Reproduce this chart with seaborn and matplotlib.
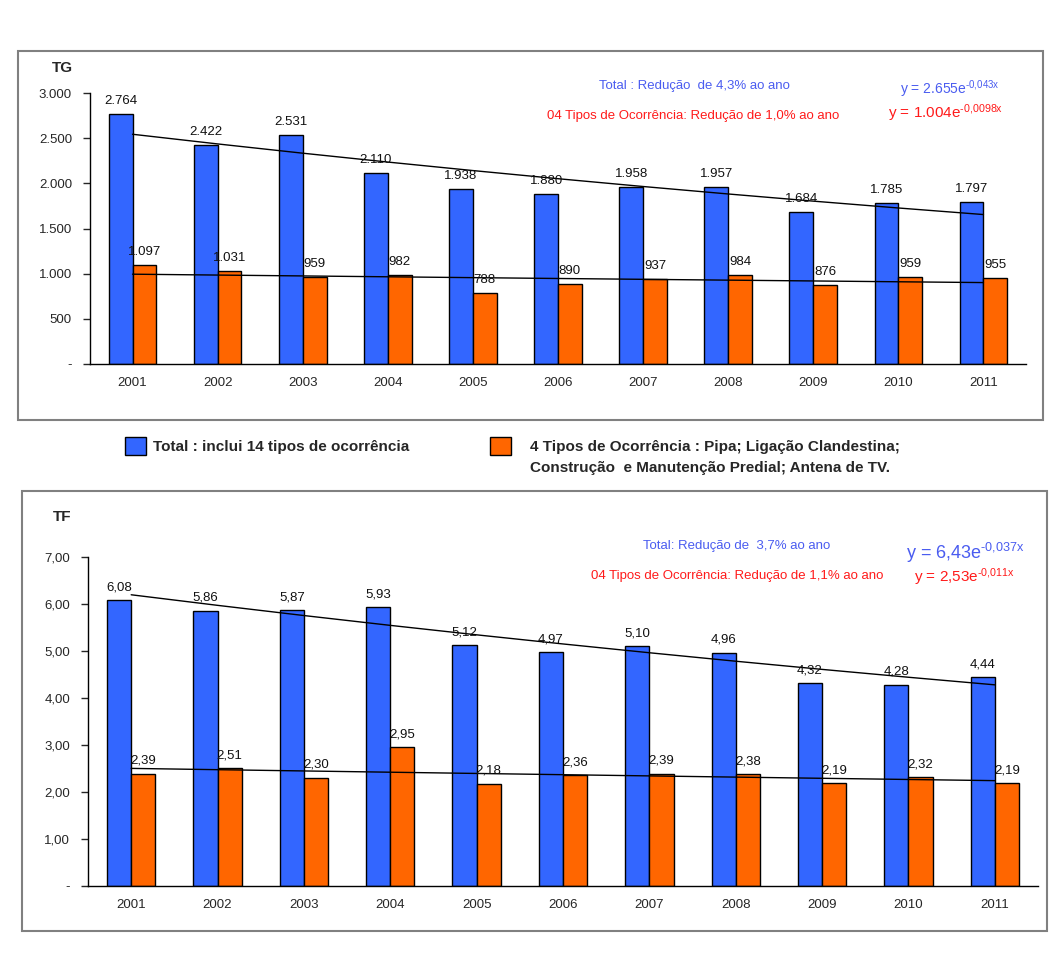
import numpy as np
import pandas as pd
import seaborn as sns
import matplotlib.pyplot as plt
from matplotlib.patches import Rectangle

# data
years = ['2001', '2002', '2003', '2004', '2005', '2006', '2007', '2008', '2009', '2010', '2011']
tg_total = [2764, 2422, 2531, 2110, 1938, 1880, 1958, 1957, 1684, 1785, 1797]
tg_four = [1097, 1031, 959, 982, 788, 890, 937, 984, 876, 959, 955]
tf_total = [6.08, 5.86, 5.87, 5.93, 5.12, 4.97, 5.10, 4.96, 4.32, 4.28, 4.44]
tf_four = [2.39, 2.51, 2.30, 2.95, 2.18, 2.36, 2.39, 2.38, 2.19, 2.32, 2.19]

# exponential trendline coefficients printed on the chart (a, b) -> a*exp(b*x)
tg_trend_total = (2655, -0.043)
tg_trend_four = (1004, -0.0098)
tf_trend_total = (6.43, -0.037)
tf_trend_four = (2.53, -0.011)

series_names = ['Total', '4 Tipos']
BLUE = '#3366FF'
ORANGE = '#FF6600'
TXT_BLUE = '#4a5cf0'
TXT_RED = '#ff1a1a'

sns.set_style('white')
plt.rcParams['font.family'] = ['Liberation Sans', 'DejaVu Sans']
plt.rcParams['mathtext.fontset'] = 'custom'
plt.rcParams['mathtext.rm'] = 'Liberation Sans'
plt.rcParams['mathtext.it'] = 'Liberation Sans'

W, H = 1063, 960
fig = plt.figure(figsize=(W / 100, H / 100), dpi=100)


def fx(px):
    return px / W


def fy(py):
    return 1 - py / H


def fmt_tg(v):
    return f"{v:,.0f}".replace(',', '.')


def fmt_tf(v):
    return f"{v:.2f}".replace('.', ',')


def draw_panel(ax, total, four, trend_total, trend_four, ymax, step, fmt):
    df = pd.DataFrame({
        'ano': years * 2,
        'valor': total + four,
        'serie': [series_names[0]] * len(years) + [series_names[1]] * len(years),
    })
    sns.barplot(data=df, x='ano', y='valor', hue='serie', hue_order=series_names,
                palette=[BLUE, ORANGE], width=0.56, gap=0, edgecolor='black',
                linewidth=1, saturation=1, legend=False, ax=ax)
    for cont in ax.containers:
        ax.bar_label(cont, labels=[fmt(v) for v in cont.datavalues],
                     padding=5, fontsize=9.5, color='#111111')

    x = np.arange(len(years))
    for a, b in (trend_total, trend_four):
        ax.plot(x, a * np.exp(b * (x + 1)), color='black', lw=1)

    ax.set_xlim(-0.5, len(years) - 0.5)
    ax.set_ylim(0, ymax)
    ticks = np.arange(0, ymax + step / 2, step)
    ax.set_yticks(ticks)
    ax.set_yticklabels(['-'] + [fmt(t) for t in ticks[1:]])
    ax.set_xlabel('')
    ax.set_ylabel('')
    for s in ['top', 'right']:
        ax.spines[s].set_visible(False)
    for s in ['left', 'bottom']:
        ax.spines[s].set_color('black')
        ax.spines[s].set_linewidth(1)
    ax.tick_params(axis='y', left=True, length=5, width=1, labelsize=9.5, pad=8)
    ax.tick_params(axis='x', bottom=False, labelsize=9.5, pad=6)


# panel frames
fig.patches.append(Rectangle((fx(18), fy(420)), fx(1043 - 18), (420 - 51) / H,
                             transform=fig.transFigure, fill=False,
                             edgecolor='#808080', lw=1.5))
fig.patches.append(Rectangle((fx(22), fy(931)), fx(1047 - 22), (931 - 491) / H,
                             transform=fig.transFigure, fill=False,
                             edgecolor='#808080', lw=1.5))

ax1 = fig.add_axes([fx(90), fy(364), fx(1026 - 90), (364 - 93) / H])
draw_panel(ax1, tg_total, tg_four, tg_trend_total, tg_trend_four, 3000, 500, fmt_tg)

ax2 = fig.add_axes([fx(88), fy(886), fx(1038 - 88), (886 - 557) / H])
draw_panel(ax2, tf_total, tf_four, tf_trend_total, tf_trend_four, 7, 1, fmt_tf)

# titles
fig.text(fx(62), fy(68), 'TG', fontsize=11, fontweight='bold', ha='center', va='center')
fig.text(fx(62), fy(517), 'TF', fontsize=11, fontweight='bold', ha='center', va='center')

# annotations, top panel
fig.text(fx(694), fy(86), 'Total : Redução  de 4,3% ao ano', color=TXT_BLUE,
         fontsize=9.5, ha='center', va='center')
fig.text(fx(693), fy(116), '04 Tipos de Ocorrência: Redução de 1,0% ao ano', color=TXT_RED,
         fontsize=9.5, ha='center', va='center')
fig.text(fx(1000), fy(89), r'y = 2.655e$^{\text{-0,043x}}$', color=TXT_BLUE,
         fontsize=10, ha='right', va='center')
fig.text(fx(1003), fy(113), r'y = 1.004e$^{\text{-0,0098x}}$', color=TXT_RED,
         fontsize=11, ha='right', va='center')

# annotations, bottom panel
fig.text(fx(737), fy(546), 'Total: Redução de  3,7% ao ano', color=TXT_BLUE,
         fontsize=9.5, ha='center', va='center')
fig.text(fx(737), fy(576), '04 Tipos de Ocorrência: Redução de 1,1% ao ano', color=TXT_RED,
         fontsize=9.5, ha='center', va='center')
fig.text(fx(1025), fy(553), r'y = 6,43e$^{\text{-0,037x}}$', color=TXT_BLUE,
         fontsize=13, ha='right', va='center')
fig.text(fx(1015), fy(577), r'y = 2,53e$^{\text{-0,011x}}$', color=TXT_RED,
         fontsize=11, ha='right', va='center')

# legend between the panels
fig.patches.append(Rectangle((fx(125), fy(455)), fx(21), 18 / H, transform=fig.transFigure,
                             facecolor=BLUE, edgecolor='black', lw=1))
fig.text(fx(153), fy(447), 'Total : inclui 14 tipos de ocorrência', fontsize=11,
         fontweight='bold', ha='left', va='center')
fig.patches.append(Rectangle((fx(490), fy(455)), fx(21), 18 / H, transform=fig.transFigure,
                             facecolor=ORANGE, edgecolor='black', lw=1))
fig.text(fx(530), fy(447), '4 Tipos de Ocorrência : Pipa; Ligação Clandestina;', fontsize=11,
         fontweight='bold', ha='left', va='center')
fig.text(fx(530), fy(468), 'Construção  e Manutenção Predial; Antena de TV.', fontsize=11,
         fontweight='bold', ha='left', va='center')

plt.savefig('out.png', dpi=100)
